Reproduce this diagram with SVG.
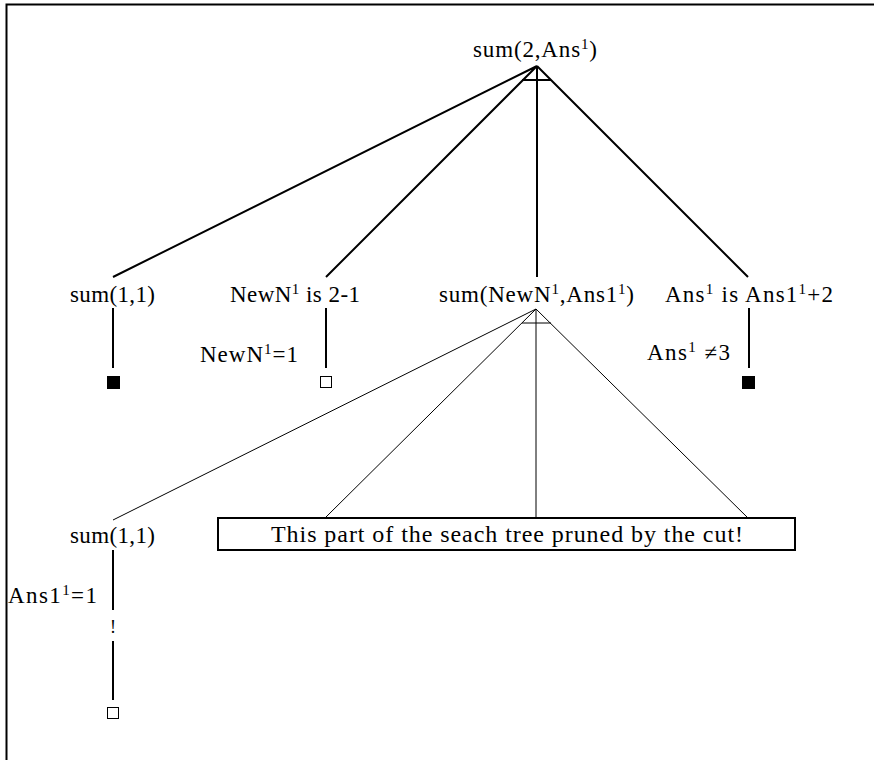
<svg xmlns="http://www.w3.org/2000/svg" width="874" height="760" viewBox="0 0 874 760">
<style>
text{font-family:"Liberation Serif","Times New Roman",serif;font-size:23px;fill:#000}
.m{text-anchor:middle}
.sup{font-size:15px}
.thick{stroke:#000;stroke-width:2;fill:none}
.thin{stroke:#000;stroke-width:1;fill:none}
</style>
<rect width="874" height="760" fill="#fff"/>
<g id="frame"><path class="thick" d="M6.5,760 V4.5 H874"/></g>
<g id="connectors">
<path class="thick" d="M537,66 L113,277 M537,66 L326,277 M537,66 V277 M537,66 L748,277 M522,80 H551"/>
<path class="thick" d="M113,308 V368 M326,308 V368 M749,308 V368 M113,550 V610 M113,641 V700"/>
<path class="thin" d="M536,309 L113,520 M536,309 L325,518 M536,309 V518 M536,309 L748,518 M522,323 H551"/>
</g>
<g id="root"><text x="473" y="57" textLength="124" lengthAdjust="spacing">sum(2,Ans<tspan class="sup" dy="-8">1</tspan><tspan dy="8">)</tspan></text></g>
<g id="n_sum11"><text x="70" y="302" textLength="85" lengthAdjust="spacing">sum(1,1)</text></g>
<g id="n_newn"><text x="230" y="302" textLength="130" lengthAdjust="spacing">NewN<tspan class="sup" dy="-8">1</tspan><tspan dy="8"> is 2-1</tspan></text></g>
<g id="n_sumnewn"><text x="439" y="302" textLength="195" lengthAdjust="spacing">sum(NewN<tspan class="sup" dy="-8">1</tspan><tspan dy="8">,Ans1</tspan><tspan class="sup" dy="-8">1</tspan><tspan dy="8">)</tspan></text></g>
<g id="n_ans"><text x="665" y="302" textLength="168" lengthAdjust="spacing">Ans<tspan class="sup" dy="-8">1</tspan><tspan dy="8"> is Ans1</tspan><tspan class="sup" dy="-8">1</tspan><tspan dy="8">+2</tspan></text></g>
<g id="l_newn"><text x="200" y="362" textLength="98" lengthAdjust="spacing">NewN<tspan class="sup" dy="-8">1</tspan><tspan dy="8">=1</tspan></text></g>
<g id="l_ans"><text x="647" y="360" textLength="83" lengthAdjust="spacing">Ans<tspan class="sup" dy="-8">1</tspan><tspan dy="8"> ≠3</tspan></text></g>
<g id="leaf1"><rect x="107" y="376" width="13" height="13" fill="#000"/></g>
<g id="leaf2"><rect x="320.5" y="376.5" width="11" height="11" fill="#fff" stroke="#000" stroke-width="1"/></g>
<g id="leaf3"><rect x="742" y="376" width="13" height="13" fill="#000"/></g>
<g id="n_sum11b"><text x="70" y="543" textLength="85" lengthAdjust="spacing">sum(1,1)</text></g>
<g id="l_ans1"><text x="8" y="603" textLength="89" lengthAdjust="spacing">Ans1<tspan class="sup" dy="-8">1</tspan><tspan dy="8">=1</tspan></text></g>
<g id="cut"><text class="m" x="113" y="633" style="font-size:18px">!</text></g>
<g id="leaf4"><rect x="107.5" y="707.5" width="11" height="11" fill="#fff" stroke="#000" stroke-width="1"/></g>
<g id="pruned"><rect x="218" y="518" width="577" height="32" fill="#fff" stroke="#000" stroke-width="2"/><text x="271" y="542" style="font-size:24px" textLength="472" lengthAdjust="spacing">This part of the seach tree pruned by the cut!</text></g>
</svg>
